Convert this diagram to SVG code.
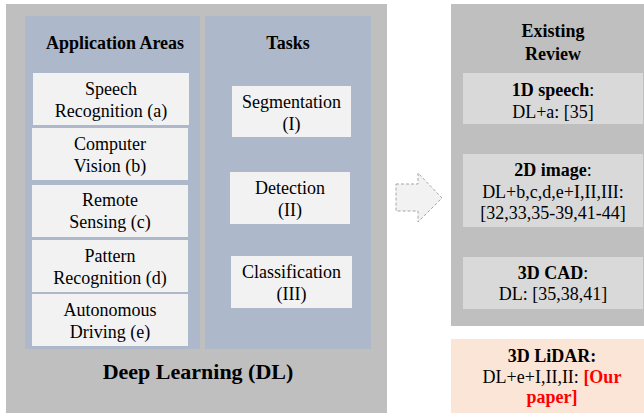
<svg xmlns="http://www.w3.org/2000/svg" width="644" height="415" viewBox="0 0 644 415" font-family="'Liberation Serif', serif">
<style>
text{font-family:'Liberation Serif',serif;font-size:18px;fill:#000;text-anchor:middle}
.b{font-weight:bold}
.red{fill:#ff0000;font-weight:bold}
.gray{fill:#bfbfbf}
.blue{fill:#adb9ca}
.lt{fill:#f2f2f2}
.rb{fill:#d9d9d9}
</style>
<rect width="644" height="415" fill="#ffffff"/>
<g id="deep-learning">
<rect class="gray" x="6" y="4" width="381" height="409"/>
<text class="b" x="198" y="379" style="font-size:22px">Deep Learning (DL)</text>
</g>
<g id="application-areas">
<rect class="blue" x="25" y="16" width="175" height="333"/>
<text class="b" x="115" y="49">Application Areas</text>
</g>
<g id="speech">
<rect class="lt" x="33" y="73" width="156" height="52"/>
<text x="111" y="95">Speech</text>
<text x="111" y="117">Recognition (a)</text>
</g>
<g id="vision">
<rect class="lt" x="32" y="128" width="156" height="52"/>
<text x="110" y="150">Computer</text>
<text x="110" y="172">Vision (b)</text>
</g>
<g id="remote">
<rect class="lt" x="32" y="185" width="156" height="52"/>
<text x="110" y="206">Remote</text>
<text x="110" y="228">Sensing (c)</text>
</g>
<g id="pattern">
<rect class="lt" x="32" y="240" width="156" height="52"/>
<text x="110" y="262">Pattern</text>
<text x="110" y="284">Recognition (d)</text>
</g>
<g id="autonomous">
<rect class="lt" x="32" y="294" width="156" height="52"/>
<text x="110" y="316">Autonomous</text>
<text x="110" y="338">Driving (e)</text>
</g>
<g id="tasks">
<rect class="blue" x="205" y="16" width="166" height="333"/>
<text class="b" x="288" y="49">Tasks</text>
</g>
<g id="segmentation">
<rect class="lt" x="232" y="86" width="119" height="51"/>
<text x="291.5" y="108">Segmentation</text>
<text x="291.5" y="130">(I)</text>
</g>
<g id="detection">
<rect class="lt" x="230" y="172" width="120" height="52"/>
<text x="290" y="194">Detection</text>
<text x="290" y="216">(II)</text>
</g>
<g id="classification">
<rect class="lt" x="231" y="256" width="121" height="52"/>
<text x="291.5" y="278">Classification</text>
<text x="291.5" y="300">(III)</text>
</g>
<g id="connectors">
<path d="M396,184 H418 V173 L442,198 L418,222 V211 H396 Z" fill="#f2f2f2" stroke="#a6a6a6" stroke-width="1" stroke-dasharray="3,2"/>
</g>
<g id="existing-review">
<rect class="gray" x="451" y="4" width="193" height="322"/>
<text class="b" x="553" y="37">Existing</text>
<text class="b" x="553" y="60">Review</text>
</g>
<g id="speech-1d">
<rect class="rb" x="463" y="73" width="180" height="51"/>
<text x="553" y="96"><tspan class="b">1D speech</tspan>:</text>
<text x="553" y="118">DL+a: [35]</text>
</g>
<g id="image-2d">
<rect class="rb" x="463" y="154" width="180" height="73"/>
<text x="553" y="176"><tspan class="b">2D image</tspan>:</text>
<text x="553" y="198">DL+b,c,d,e+I,II,III:</text>
<text x="553" y="219">[32,33,35-39,41-44]</text>
</g>
<g id="cad-3d">
<rect class="rb" x="463" y="257" width="180" height="52"/>
<text x="553" y="279"><tspan class="b">3D CAD</tspan>:</text>
<text x="553" y="300">DL: [35,38,41]</text>
</g>
<g id="lidar-3d">
<rect x="451" y="339" width="193" height="74" fill="#fbe5d6"/>
<text class="b" x="552" y="362">3D LiDAR:</text>
<text x="552" y="383">DL+e+I,II,II: <tspan class="red">[Our</tspan></text>
<text class="red" x="552" y="403">paper]</text>
</g>
</svg>
